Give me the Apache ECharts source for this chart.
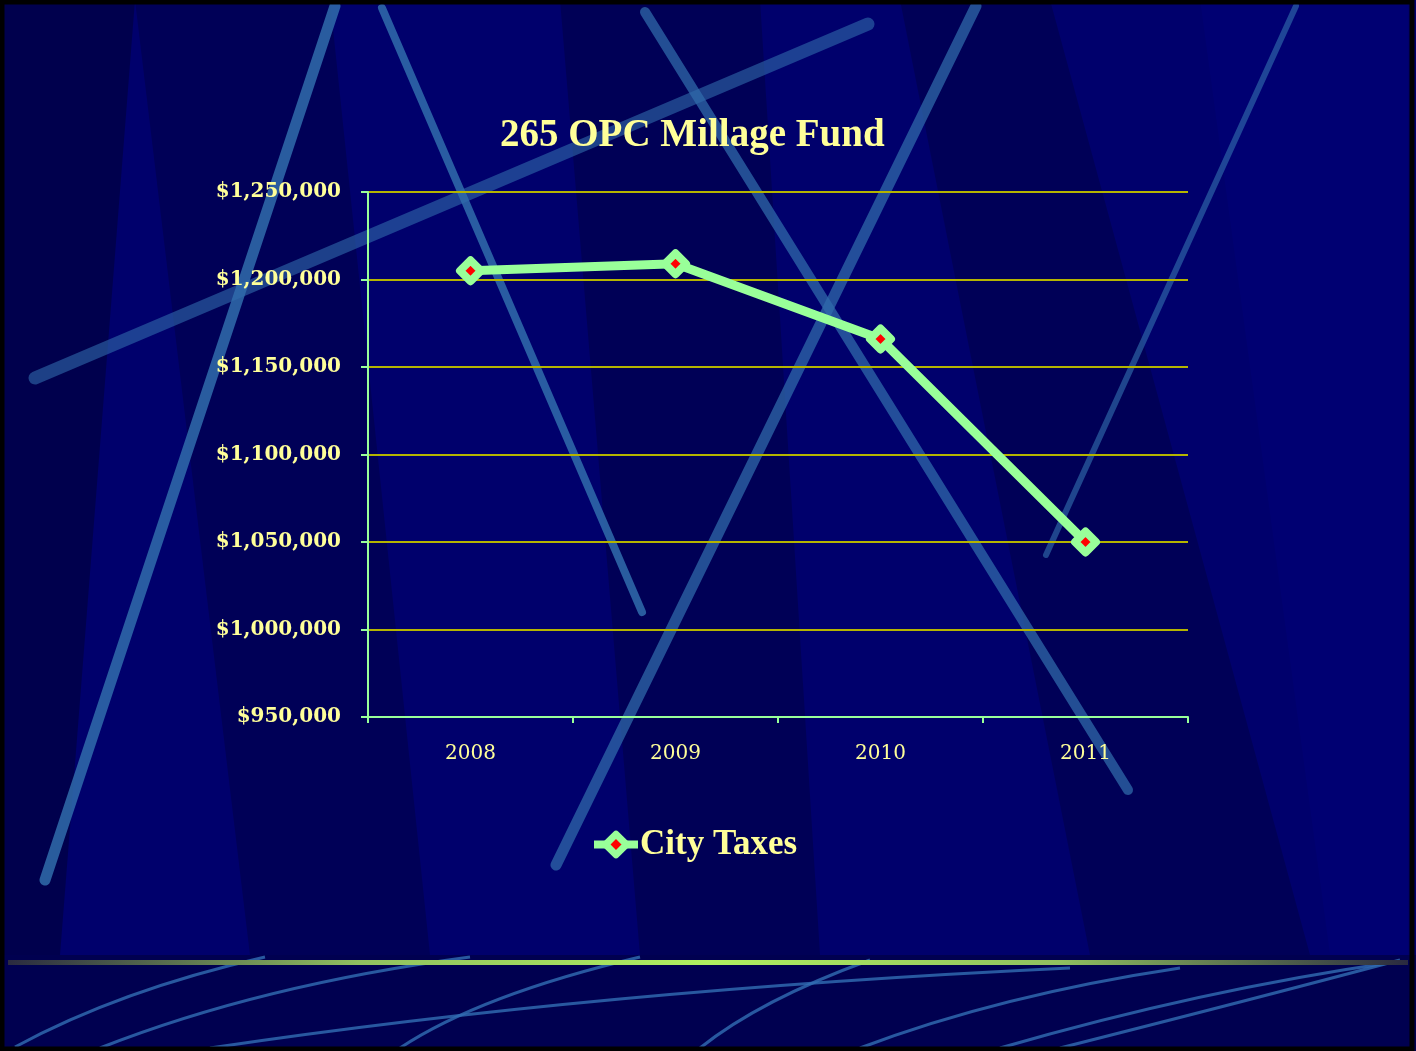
<!DOCTYPE html>
<html>
<head>
<meta charset="utf-8">
<script src="https://cdn.jsdelivr.net/npm/echarts@6/dist/echarts.min.js"></script>
<style>
  html, body { margin: 0; padding: 0; background: #000000; }
  #main { width: 1416px; height: 1051px; }
</style>
</head>
<body>
<div id="main"></div>
<script>
// data
const years = ['2008', '2009', '2010', '2011'];
const cityTaxes = [1205000, 1209000, 1166000, 1050000];
const yMin = 950000;
const yMax = 1250000;
const yStep = 50000;

const paleYellow = '#ffff99';
const paleGreen = '#99ff99';
const serif = "'Liberation Serif', 'DejaVu Serif', serif";
const labelSerif = "'DejaVu Serif', 'Liberation Serif', serif";

// slide background decoration (not data)
const streak = 'rgba(48, 108, 172, 0.85)';
function band(points, fill) {
  return { type: 'polygon', silent: true, z: -10, shape: { points: points }, style: { fill: fill } };
}
function streakLine(x1, y1, x2, y2, w, op) {
  return { type: 'line', silent: true, z: -9, shape: { x1: x1, y1: y1, x2: x2, y2: y2 },
    style: { stroke: streak, lineWidth: w, lineCap: 'round', opacity: op || 1 } };
}
function curve(x1, y1, cx, cy, x2, y2) {
  return { type: 'bezierCurve', silent: true, z: -9,
    shape: { x1: x1, y1: y1, cpx1: cx, cpy1: cy, x2: x2, y2: y2 },
    style: { stroke: 'rgba(50, 110, 180, 0.8)', lineWidth: 3, fill: null } };
}

const bg = [
  { type: 'rect', silent: true, z: -11, shape: { x: 0, y: 0, width: 1416, height: 1051 },
    style: { fill: '#00006c' } },
  band([[0, 0], [135, 0], [60, 955], [0, 955]], 'rgba(0,0,40,0.45)'),
  band([[135, 0], [330, 0], [430, 955], [250, 955]], 'rgba(0,0,50,0.35)'),
  band([[560, 0], [760, 0], [820, 955], [640, 955]], 'rgba(0,0,45,0.35)'),
  band([[900, 0], [1050, 0], [1310, 955], [1090, 955]], 'rgba(0,0,50,0.35)'),
  band([[1200, 0], [1408, 0], [1408, 955], [1330, 955]], 'rgba(0,0,130,0.25)'),
  streakLine(35, 378, 868, 24, 13, 0.7),
  streakLine(45, 880, 335, 6, 11),
  streakLine(382, 8, 642, 612, 8),
  streakLine(645, 12, 1128, 790, 10, 0.85),
  streakLine(556, 865, 976, 6, 11, 0.85),
  streakLine(1046, 555, 1296, 6, 6, 0.75),
  { type: 'rect', silent: true, z: -10, shape: { x: 0, y: 955, width: 1416, height: 96 },
    style: { fill: '#000050' } },
  curve(15, 1047, 120, 990, 265, 957),
  curve(100, 1048, 260, 985, 470, 957),
  curve(210, 1048, 600, 990, 1070, 968),
  curve(400, 1048, 480, 995, 640, 957),
  curve(700, 1048, 760, 1000, 870, 960),
  curve(860, 1048, 1000, 995, 1180, 968),
  curve(1000, 1048, 1200, 990, 1395, 962),
  curve(1060, 1048, 1250, 1000, 1400, 960),
  { type: 'rect', silent: true, z: -8, shape: { x: 8, y: 960, width: 1400, height: 5 },
    style: { fill: new echarts.graphic.LinearGradient(0, 0, 1, 0, [
      { offset: 0, color: '#2a2a40' },
      { offset: 0.25, color: '#90c060' },
      { offset: 0.5, color: '#b0f060' },
      { offset: 0.75, color: '#90c060' },
      { offset: 1, color: '#2a2a40' }
    ]) } },
  { type: 'rect', silent: true, z: 50, shape: { x: 2, y: 2, width: 1410, height: 1047 },
    style: { fill: null, stroke: '#000000', lineWidth: 5 } }
];

const myChart = echarts.init(document.getElementById('main'));
myChart.setOption({
  backgroundColor: '#00006c',
  animation: false,
  graphic: { elements: bg },
  title: {
    text: '265 OPC Millage Fund',
    left: 500,
    top: 116,
    padding: 0,
    textStyle: { color: paleYellow, fontFamily: serif, fontWeight: 'bold', fontSize: 39 }
  },
  legend: {
    data: ['City Taxes'],
    left: 585,
    top: 822,
    itemWidth: 44,
    itemHeight: 26,
    itemGap: 10,
    lineStyle: { color: paleGreen, width: 8 },
    itemStyle: { color: '#ff0000', borderColor: paleGreen, borderWidth: 7, borderJoin: 'round' },
    textStyle: { color: paleYellow, fontFamily: serif, fontWeight: 'bold', fontSize: 35, padding: [0, 0, 0, -3] }
  },
  grid: { left: 368, right: 228, top: 192, bottom: 334, containLabel: false },
  xAxis: {
    type: 'category',
    data: years,
    boundaryGap: true,
    axisLine: { lineStyle: { color: paleGreen, width: 2 } },
    axisTick: { show: true, length: 6, lineStyle: { color: paleGreen, width: 2 } },
    axisLabel: { color: paleYellow, fontFamily: labelSerif, fontSize: 20, margin: 27 }
  },
  yAxis: {
    type: 'value',
    min: yMin,
    max: yMax,
    interval: yStep,
    axisLine: { show: true, lineStyle: { color: paleGreen, width: 2 } },
    axisTick: { show: true, length: 7, lineStyle: { color: paleGreen, width: 2 } },
    axisLabel: {
      color: paleYellow, fontFamily: labelSerif, fontWeight: 'bold', fontSize: 20, margin: 27,
      formatter: function (v) { return '$' + v.toLocaleString('en-US'); }
    },
    splitLine: { show: true, lineStyle: { color: '#b4b400', width: 2 } }
  },
  series: [{
    name: 'City Taxes',
    type: 'line',
    data: cityTaxes,
    symbol: 'diamond',
    symbolSize: 21,
    lineStyle: { color: paleGreen, width: 9 },
    itemStyle: { color: '#ff0000', borderColor: paleGreen, borderWidth: 8, borderJoin: 'round' },
    z: 3
  }]
});
window.onresize = function () { myChart.resize(); };
</script>
</body>
</html>
